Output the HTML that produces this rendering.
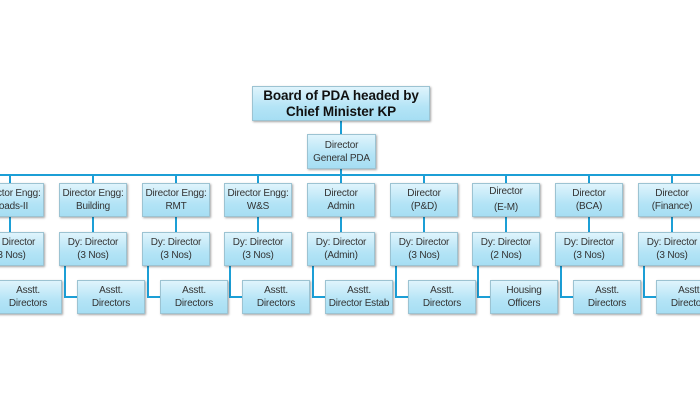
<!DOCTYPE html>
<html><head><style>
body{margin:0;width:700px;height:400px;background:#fff;position:relative;overflow:hidden;font-family:"Liberation Sans",sans-serif;}
.b{position:absolute;box-sizing:border-box;border:1px solid #9cc3d2;background:linear-gradient(#dff4fc,#b4e4f6 60%,#a6def3);box-shadow:1px 1px 2px rgba(0,0,0,.35);display:flex;align-items:center;justify-content:center;text-align:center;font-size:10px;letter-spacing:-0.2px;line-height:13px;color:#333;white-space:nowrap;}
.l{position:absolute;background:#1c9fd6;}
</style></head><body>
<div class="l" style="left:340px;top:121px;width:2px;height:55px"></div>
<div class="l" style="left:0;top:174px;width:700px;height:2px"></div>

<div class="b" style="left:252px;top:86px;width:178px;height:35px;font-size:13.5px;line-height:16px;font-weight:bold;color:#111;letter-spacing:-0.1px">Board of PDA headed by<br>Chief Minister KP</div>
<div class="b" style="left:307px;top:134px;width:69px;height:35px">Director<br>General PDA</div>

<div class="l" style="left:9px;top:175px;width:2px;height:90px"></div>
<div class="l" style="left:92px;top:175px;width:2px;height:90px"></div>
<div class="l" style="left:175px;top:175px;width:2px;height:90px"></div>
<div class="l" style="left:257px;top:175px;width:2px;height:90px"></div>
<div class="l" style="left:340px;top:175px;width:2px;height:90px"></div>
<div class="l" style="left:423px;top:175px;width:2px;height:90px"></div>
<div class="l" style="left:505px;top:175px;width:2px;height:90px"></div>
<div class="l" style="left:588px;top:175px;width:2px;height:90px"></div>
<div class="l" style="left:671px;top:175px;width:2px;height:90px"></div>

<div class="l" style="left:-19px;top:266px;width:2px;height:32px"></div><div class="l" style="left:-19px;top:296px;width:14px;height:2px"></div>
<div class="l" style="left:64px;top:266px;width:2px;height:32px"></div><div class="l" style="left:64px;top:296px;width:14px;height:2px"></div>
<div class="l" style="left:147px;top:266px;width:2px;height:32px"></div><div class="l" style="left:147px;top:296px;width:14px;height:2px"></div>
<div class="l" style="left:229px;top:266px;width:2px;height:32px"></div><div class="l" style="left:229px;top:296px;width:14px;height:2px"></div>
<div class="l" style="left:312px;top:266px;width:2px;height:32px"></div><div class="l" style="left:312px;top:296px;width:14px;height:2px"></div>
<div class="l" style="left:395px;top:266px;width:2px;height:32px"></div><div class="l" style="left:395px;top:296px;width:14px;height:2px"></div>
<div class="l" style="left:477px;top:266px;width:2px;height:32px"></div><div class="l" style="left:477px;top:296px;width:14px;height:2px"></div>
<div class="l" style="left:560px;top:266px;width:2px;height:32px"></div><div class="l" style="left:560px;top:296px;width:14px;height:2px"></div>
<div class="l" style="left:643px;top:266px;width:2px;height:32px"></div><div class="l" style="left:643px;top:296px;width:14px;height:2px"></div>

<div class="b" style="left:-24px;top:183px;width:68px;height:34px">Director Engg:<br>Roads-II</div>
<div class="b" style="left:59px;top:183px;width:68px;height:34px">Director Engg:<br>Building</div>
<div class="b" style="left:142px;top:183px;width:68px;height:34px">Director Engg:<br>RMT</div>
<div class="b" style="left:224px;top:183px;width:68px;height:34px">Director Engg:<br>W&amp;S</div>
<div class="b" style="left:307px;top:183px;width:68px;height:34px">Director<br>Admin</div>
<div class="b" style="left:390px;top:183px;width:68px;height:34px">Director<br>(P&amp;D)</div>
<div class="b" style="left:472px;top:183px;width:68px;height:34px;line-height:16px">Director<br>(E-M)</div>
<div class="b" style="left:555px;top:183px;width:68px;height:34px">Director<br>(BCA)</div>
<div class="b" style="left:638px;top:183px;width:68px;height:34px">Director<br>(Finance)</div>

<div class="b" style="left:-24px;top:232px;width:68px;height:34px">Dy: Director<br>(3 Nos)</div>
<div class="b" style="left:59px;top:232px;width:68px;height:34px">Dy: Director<br>(3 Nos)</div>
<div class="b" style="left:142px;top:232px;width:68px;height:34px">Dy: Director<br>(3 Nos)</div>
<div class="b" style="left:224px;top:232px;width:68px;height:34px">Dy: Director<br>(3 Nos)</div>
<div class="b" style="left:307px;top:232px;width:68px;height:34px">Dy: Director<br>(Admin)</div>
<div class="b" style="left:390px;top:232px;width:68px;height:34px">Dy: Director<br>(3 Nos)</div>
<div class="b" style="left:472px;top:232px;width:68px;height:34px">Dy: Director<br>(2 Nos)</div>
<div class="b" style="left:555px;top:232px;width:68px;height:34px">Dy: Director<br>(3 Nos)</div>
<div class="b" style="left:638px;top:232px;width:68px;height:34px">Dy: Director<br>(3 Nos)</div>

<div class="b" style="left:-6px;top:280px;width:68px;height:34px">Asstt.<br>Directors</div>
<div class="b" style="left:77px;top:280px;width:68px;height:34px">Asstt.<br>Directors</div>
<div class="b" style="left:160px;top:280px;width:68px;height:34px">Asstt.<br>Directors</div>
<div class="b" style="left:242px;top:280px;width:68px;height:34px">Asstt.<br>Directors</div>
<div class="b" style="left:325px;top:280px;width:68px;height:34px">Asstt.<br>Director Estab</div>
<div class="b" style="left:408px;top:280px;width:68px;height:34px">Asstt.<br>Directors</div>
<div class="b" style="left:490px;top:280px;width:68px;height:34px">Housing<br>Officers</div>
<div class="b" style="left:573px;top:280px;width:68px;height:34px">Asstt.<br>Directors</div>
<div class="b" style="left:656px;top:280px;width:68px;height:34px">Asstt.<br>Directors</div>
</body></html>
